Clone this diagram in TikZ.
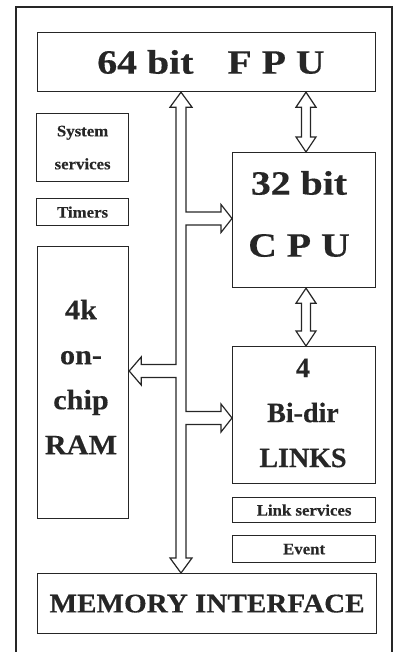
\documentclass[tikz,border=0pt]{standalone}
\usepackage{fontspec}
\setmainfont{Liberation Serif}
\newfontfamily\wideL[FakeStretch=1.17,FakeBold=0.4]{Liberation Serif}
\newfontfamily\wideM[FakeStretch=1.08,FakeBold=0.4]{Liberation Serif}
\newfontfamily\wideS[FakeStretch=1.05,FakeBold=0.3]{Liberation Serif}
\newfontfamily\plainB[FakeBold=0.4]{Liberation Serif}
\usetikzlibrary{calc}
\begin{document}
\begin{tikzpicture}[x=1pt,y=-1pt,
  box/.style={draw=black!85, line width=1.2pt, rectangle, inner sep=0pt, anchor=north west, text=black!85},
  lbl/.style={text=black!85, align=center, inner sep=0pt},
  bus/.style={draw=black!85, line width=1.2pt, line join=miter},
  frame/.style={draw=black!85, line width=1.4pt}
]
\useasboundingbox (0,0) rectangle (394,652);
\draw[frame] (16,660) -- (16,7) -- (392,7) -- (392,660);

% boxes
\node[box, minimum width=338pt, minimum height=59pt] (fpu) at (37,32) {};
\node[lbl, font=\fontsize{34}{40}\wideL\bfseries] (fputxt) at (211,62) {64 bit\hspace{34pt}F P U};

\node[box, minimum width=92pt, minimum height=68pt, align=center, font=\fontsize{16}{33}\wideS\bfseries] (sys) at (36,113) {System\\services};
\node[box, minimum width=92pt, minimum height=27pt, font=\fontsize{16}{18}\wideS\bfseries] (tim) at (36,198) {Timers};

\node[box, minimum width=143pt, minimum height=135pt] (cpu) at (232,152) {};
\node[lbl, font=\fontsize{34}{62}\wideL\bfseries] (cputxt) at (299,214) {32 bit\\C P U};

\node[box, minimum width=91pt, minimum height=272pt] (ram) at (37,246) {};
\node[lbl, font=\fontsize{28}{45}\wideM\bfseries] (ramtxt) at (81,377) {4k\\on-\\chip\\RAM};

\node[box, minimum width=143pt, minimum height=137pt] (links) at (232,346) {};
\node[lbl, font=\fontsize{28}{45}\plainB\bfseries] (linkstxt) at (303,413) {4\\Bi-dir\\LINKS};

\node[box, minimum width=143pt, minimum height=25pt, font=\fontsize{16}{18}\wideS\bfseries] (lsv) at (232,497) {Link services};
\node[box, minimum width=143pt, minimum height=27pt, font=\fontsize{16}{18}\wideS\bfseries] (evt) at (232,535) {Event};

\node[box, minimum width=339pt, minimum height=60pt, font=\fontsize{27}{32}\wideM\bfseries] (mem) at (37,573) {MEMORY INTERFACE};

% bus reference coordinates
\coordinate (bx) at (181,0);
\coordinate (ax) at (306,0);
\coordinate (bcpu) at (cpu.west |- 0,218.5);
\coordinate (blnk) at (links.west |- 0,418);
\coordinate (bram) at (ram.east |- 0,371);

% main hollow bus
\draw[bus] let \p1=(bx |- fpu.south), \p2=(bx |- mem.north), \p3=(bcpu), \p4=(blnk), \p5=(bram) in
 (\p1)
 -- (\x1+11pt,\y1-15pt) -- (\x1+5pt,\y1-15pt)
 -- (\x1+5pt,\y3+6.5pt) -- (\x3-11pt,\y3+6.5pt) -- (\x3-11pt,\y3+14pt) -- (\p3)
 -- (\x3-11pt,\y3-14pt) -- (\x3-11pt,\y3-6.5pt) -- (\x1+5pt,\y3-6.5pt)
 -- (\x1+5pt,\y4+6.5pt) -- (\x4-11pt,\y4+6.5pt) -- (\x4-11pt,\y4+14pt) -- (\p4)
 -- (\x4-11pt,\y4-14pt) -- (\x4-11pt,\y4-6.5pt) -- (\x1+5pt,\y4-6.5pt)
 -- (\x1+5pt,\y2+15pt) -- (\x1+11pt,\y2+15pt) -- (\p2)
 -- (\x1-11pt,\y2+15pt) -- (\x1-5pt,\y2+15pt)
 -- (\x1-5pt,\y5-6.5pt) -- (\x5+12pt,\y5-6.5pt) -- (\x5+12pt,\y5-14pt) -- (\p5)
 -- (\x5+12pt,\y5+14pt) -- (\x5+12pt,\y5+6.5pt) -- (\x1-5pt,\y5+6.5pt)
 -- (\x1-5pt,\y1-15pt) -- (\x1-11pt,\y1-15pt) -- cycle;

% FPU <-> CPU
\draw[bus] let \p1=(ax |- fpu.south), \p2=(ax |- cpu.north) in
 (\p1) -- (\x1+10pt,\y1-15pt) -- (\x1+4.5pt,\y1-15pt) -- (\x1+4.5pt,\y2+15pt) -- (\x1+10pt,\y2+15pt) -- (\p2)
 -- (\x1-10pt,\y2+15pt) -- (\x1-4.5pt,\y2+15pt) -- (\x1-4.5pt,\y1-15pt) -- (\x1-10pt,\y1-15pt) -- cycle;

% CPU <-> LINKS
\draw[bus] let \p1=(ax |- cpu.south), \p2=(ax |- links.north) in
 (\p1) -- (\x1+10pt,\y1-15pt) -- (\x1+4.5pt,\y1-15pt) -- (\x1+4.5pt,\y2+15pt) -- (\x1+10pt,\y2+15pt) -- (\p2)
 -- (\x1-10pt,\y2+15pt) -- (\x1-4.5pt,\y2+15pt) -- (\x1-4.5pt,\y1-15pt) -- (\x1-10pt,\y1-15pt) -- cycle;
\end{tikzpicture}
\end{document}
